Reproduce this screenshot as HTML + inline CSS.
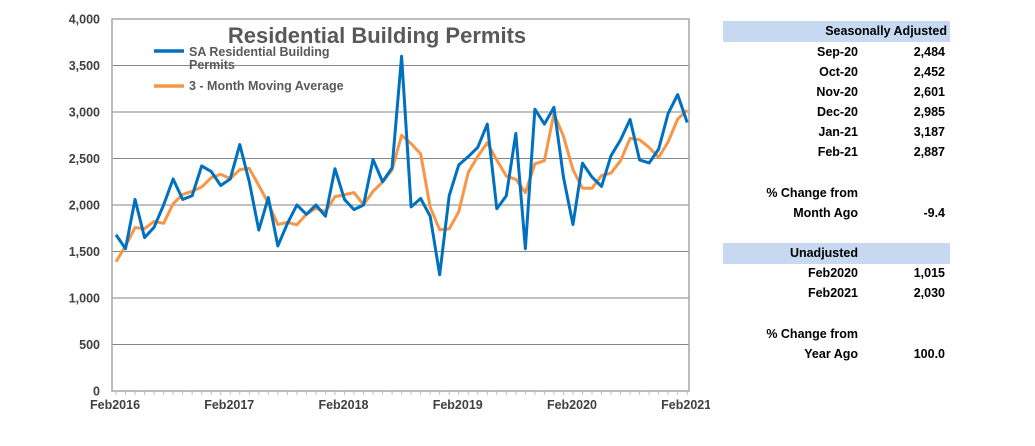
<!DOCTYPE html>
<html><head><meta charset="utf-8"><style>
html,body{margin:0;padding:0;background:#fff;width:1035px;height:446px;overflow:hidden;font-family:"Liberation Sans",Arial,sans-serif}
.t{position:absolute;font-weight:bold;font-size:12.5px;color:#000;white-space:nowrap}
.l{right:177px}
.v{right:90px}
.bar{position:absolute;left:723px;width:227px;height:21px;background:#c6d9f0}
</style></head><body>
<svg id="c" width="710" height="446" style="position:absolute;left:0;top:0" font-family="Liberation Sans, Arial, sans-serif"></svg>
<div class="bar" style="top:21px"></div>
<div class="t" style="right:88px;top:24px">Seasonally Adjusted</div>
<div class="t l" style="top:45px">Sep-20</div><div class="t v" style="top:45px">2,484</div>
<div class="t l" style="top:65px">Oct-20</div><div class="t v" style="top:65px">2,452</div>
<div class="t l" style="top:85px">Nov-20</div><div class="t v" style="top:85px">2,601</div>
<div class="t l" style="top:105px">Dec-20</div><div class="t v" style="top:105px">2,985</div>
<div class="t l" style="top:125px">Jan-21</div><div class="t v" style="top:125px">3,187</div>
<div class="t l" style="top:145px">Feb-21</div><div class="t v" style="top:145px">2,887</div>
<div class="t l" style="top:186px">% Change from</div>
<div class="t l" style="top:206px">Month Ago</div><div class="t v" style="top:206px">-9.4</div>
<div class="bar" style="top:243px"></div>
<div class="t l" style="top:246px">Unadjusted</div>
<div class="t l" style="top:266px">Feb2020</div><div class="t v" style="top:266px">1,015</div>
<div class="t l" style="top:286px">Feb2021</div><div class="t v" style="top:286px">2,030</div>
<div class="t l" style="top:327px">% Change from</div>
<div class="t l" style="top:347px">Year Ago</div><div class="t v" style="top:347px">100.0</div>
<script>
var s=document.getElementById('c'),h='';
var X0=112,X1=689,T=19,B=391;
function Y(v){return B-(v/4000)*(B-T);}
for(var k=0;k<=8;k++){var y=Y(k*500);
 if(k>0)h+='<line x1="'+X0+'" x2="'+X1+'" y1="'+y+'" y2="'+y+'" stroke="#868686" stroke-width="1"/>';
 h+='<text x="100" y="'+(y+4.5)+'" text-anchor="end" font-size="12.5" font-weight="bold" fill="#404040">'+(k*500).toLocaleString('en-US')+'</text>';}
h+='<rect x="'+X0+'" y="'+T+'" width="'+(X1-X0)+'" height="'+(B-T)+'" fill="none" stroke="#a6a6a6" stroke-width="1.5"/>';
var d=[1680,1530,2060,1650,1760,2000,2280,2060,2100,2420,2360,2210,2280,2650,2250,1730,2080,1560,1800,2000,1900,2000,1880,2390,2060,1950,2000,2490,2250,2400,3600,1980,2070,1880,1250,2100,2430,2520,2620,2870,1960,2100,2770,1530,3030,2870,3050,2300,1790,2450,2300,2200,2530,2700,2920,2484,2452,2601,2985,3187,2887];
function X(i){return 116+i*9.52;}
for(var i=0;i<=60;i++){h+='<line x1="'+X(i)+'" x2="'+X(i)+'" y1="'+B+'" y2="'+(B+4)+'" stroke="#bfbfbf"/>';}
var m=[1390,1560];for(var i=2;i<61;i++)m.push((d[i]+d[i-1]+d[i-2])/3);
var p1='',p2='';for(var i=0;i<61;i++){p1+=X(i)+','+Y(d[i])+' ';p2+=X(i)+','+Y(m[i])+' ';}
h+='<polyline points="'+p2+'" fill="none" stroke="#f79646" stroke-width="3" stroke-linejoin="round"/>';
h+='<polyline points="'+p1+'" fill="none" stroke="#0070c0" stroke-width="3" stroke-linejoin="round"/>';
var lb=['Feb2016','Feb2017','Feb2018','Feb2019','Feb2020','Feb2021'];
for(var j=0;j<6;j++)h+='<text x="'+(X(j*12)-1)+'" y="409" text-anchor="middle" font-size="12.5" font-weight="bold" fill="#404040">'+lb[j]+'</text>';
h+='<text x="377" y="43" text-anchor="middle" font-size="22" font-weight="bold" fill="#595959">Residential Building Permits</text>';
h+='<line x1="154" x2="184" y1="51" y2="51" stroke="#0070c0" stroke-width="3.5"/>';
h+='<text x="189" y="56" font-size="12.5" font-weight="bold" fill="#595959">SA Residential Building</text>';
h+='<text x="189" y="69" font-size="12.5" font-weight="bold" fill="#595959">Permits</text>';
h+='<line x1="154" x2="184" y1="86" y2="86" stroke="#f79646" stroke-width="3.5"/>';
h+='<text x="189" y="90" font-size="12.5" font-weight="bold" fill="#595959">3 - Month Moving Average</text>';
s.innerHTML=h;
</script>
</body></html>
